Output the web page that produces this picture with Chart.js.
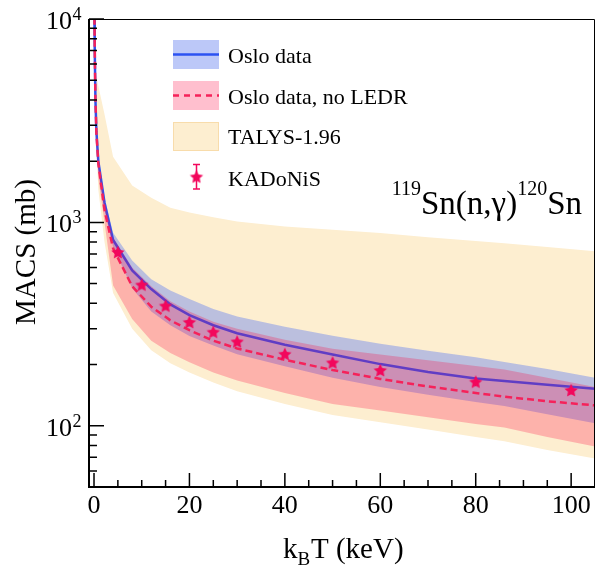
<!DOCTYPE html>
<html lang="en">
<head>
<meta charset="UTF-8">
<title>119Sn(n,γ)120Sn MACS</title>
<script src="https://cdn.jsdelivr.net/npm/chart.js"></script>
<style>
  html, body { margin: 0; padding: 0; background: #fff; }
  canvas { display: block; }
</style>
</head>
<body>
<canvas id="macs" width="603" height="567"></canvas>
<script>
// kT grid (keV) shared by the two Oslo curves
const kT = [0.05, 0.15, 0.3, 0.5, 0.9, 2.2, 4, 8, 12, 16, 20, 25, 30, 40, 50, 60, 70, 80, 86, 95, 105];

// Oslo data (with LEDR): central value and uncertainty band, mb
const osloMacs  = [13000, 7200, 4000, 2800, 2000, 1250, 820, 580, 470, 395, 350, 312, 285, 250, 224, 201, 184, 171, 166, 159, 152];
const osloUpper = [14000, 7600, 4200, 2950, 2100, 1330, 890, 650, 525, 462, 420, 375, 345, 307, 277, 253, 234, 217, 206, 190, 172];
const osloLower = [12000, 6800, 3800, 2650, 1880, 1150, 760, 475, 365, 312, 276, 248, 225, 196, 172, 155, 142, 131, 125, 114, 103];

// Oslo data without LEDR
const noLedrMacs  = [13000, 7200, 4000, 2750, 1950, 1150, 745, 485, 385, 330, 295, 262, 240, 211, 188, 170, 156, 145, 139, 132, 126];
const noLedrUpper = [13500, 7400, 4100, 2880, 2050, 1290, 845, 600, 485, 410, 365, 325, 300, 265, 239, 224, 210, 197, 189, 172, 155];
const noLedrLower = [11000, 6200, 3500, 2400, 1650, 1000, 490, 335, 262, 228, 205, 183, 167, 145, 128, 119, 110, 102, 98, 88, 79];

// TALYS-1.96 spread
const talysKT    = [0.3, 0.9, 2.2, 4, 8, 12, 16, 20, 25, 30, 40, 50, 60, 70, 80, 86, 95, 105];
const talysUpper = [5500, 4700, 3400, 2100, 1520, 1320, 1180, 1120, 1060, 1010, 955, 920, 888, 845, 810, 790, 757, 721];
const talysLower = [3000, 1450, 800, 450, 300, 235, 203, 183, 163, 148, 128, 113, 104, 96, 88, 84, 76, 69];

// KADoNiS recommended values
const kadonisKT   = [5, 10, 15, 20, 25, 30, 40, 50, 60, 80, 100];
const kadonisMacs = [716, 495, 390, 324, 290, 260, 226, 205, 188, 165, 150];
const kadonisErr  = [30, 20, 16, 13, 12, 10, 9, 9, 8, 8, 7];

// axis ticks
const xMajorTicks = [0, 20, 40, 60, 80, 100];
const xMinorTicks = [5, 10, 15, 25, 30, 35, 45, 50, 55, 65, 70, 75, 85, 90, 95];
const yMajorTicks = [100, 1000, 10000];
const yTickExponents = ['2', '3', '4'];
const yMinorTicks = [50, 60, 70, 80, 90, 200, 300, 400, 500, 600, 700, 800, 900,
                     2000, 3000, 4000, 5000, 6000, 7000, 8000, 9000];

const SERIF = '"Liberation Serif", "Times New Roman", serif';
const BLUE_LINE = '#2b52f2';
const BLUE_BAND = 'rgba(106, 133, 240, 0.45)';
const RED_LINE = '#f5225a';
const RED_BAND = 'rgba(255, 0, 60, 0.25)';
const TALYS_FILL = '#fdeed0';
const STAR = '#f2075c';

const pts = (xs, ys) => xs.map((x, i) => ({ x: x, y: ys[i] }));

// filled five-point star (ROOT marker 29)
function starImage(r, color) {
  const c = document.createElement('canvas');
  const s = Math.ceil(2 * r + 2);
  c.width = c.height = s;
  const g = c.getContext('2d');
  g.translate(s / 2, s / 2 + 0.8);
  g.beginPath();
  for (let k = 0; k < 10; k++) {
    const rad = k % 2 ? r * 0.48 : r;
    const a = -Math.PI / 2 + k * Math.PI / 5;
    g.lineTo(rad * Math.cos(a), rad * Math.sin(a));
  }
  g.closePath();
  g.fillStyle = color;
  g.fill();
  return c;
}
const star = starImage(7, STAR);

const band = (data, color, order) => ({
  data: data, fill: '+1', backgroundColor: color, borderColor: 'transparent',
  borderWidth: 0, pointRadius: 0, order: order
});
const edge = (data, order) => ({
  data: data, fill: false, borderColor: 'transparent', borderWidth: 0, pointRadius: 0, order: order
});

const KADONIS = 8;

const rootStyle = {
  id: 'rootStyle',
  beforeDatasetDraw(chart, args) {
    if (args.index !== KADONIS) return;
    const { ctx, scales: { x, y } } = chart;
    ctx.save();
    ctx.strokeStyle = STAR;
    ctx.lineWidth = 1.5;
    ctx.beginPath();
    kadonisKT.forEach((t, i) => {
      const px = x.getPixelForValue(t);
      ctx.moveTo(px, y.getPixelForValue(kadonisMacs[i] + kadonisErr[i]));
      ctx.lineTo(px, y.getPixelForValue(kadonisMacs[i] - kadonisErr[i]));
    });
    ctx.stroke();
    ctx.restore();
  },
  afterDraw(chart) {
    const { ctx, chartArea: a, scales: { x, y } } = chart;
    ctx.save();
    ctx.strokeStyle = '#000';
    ctx.fillStyle = '#000';

    // frame
    ctx.lineWidth = 1;
    ctx.beginPath();
    ctx.moveTo(a.left, a.top + 0.5); ctx.lineTo(a.right - 0.5, a.top + 0.5);
    ctx.lineTo(a.right - 0.5, a.bottom);
    ctx.stroke();
    ctx.lineWidth = 2;
    ctx.beginPath();
    ctx.moveTo(a.left, a.top); ctx.lineTo(a.left, a.bottom); ctx.lineTo(a.right, a.bottom);
    ctx.stroke();

    // inward ticks
    ctx.lineWidth = 1.5;
    ctx.beginPath();
    yMajorTicks.forEach(v => { const p = y.getPixelForValue(v); ctx.moveTo(a.left, p); ctx.lineTo(a.left + 15, p); });
    yMinorTicks.forEach(v => { const p = y.getPixelForValue(v); ctx.moveTo(a.left, p); ctx.lineTo(a.left + 8, p); });
    xMajorTicks.forEach(v => { const p = x.getPixelForValue(v); ctx.moveTo(p, a.bottom); ctx.lineTo(p, a.bottom - 14); });
    xMinorTicks.forEach(v => { const p = x.getPixelForValue(v); ctx.moveTo(p, a.bottom); ctx.lineTo(p, a.bottom - 7); });
    ctx.stroke();

    // tick labels
    ctx.font = '26px ' + SERIF;
    ctx.textAlign = 'center';
    ctx.textBaseline = 'alphabetic';
    xMajorTicks.forEach(v => ctx.fillText(String(v), x.getPixelForValue(v), 513));
    yMajorTicks.forEach((v, i) => {
      const p = y.getPixelForValue(v);
      ctx.font = '26px ' + SERIF;
      ctx.textAlign = 'right';
      ctx.fillText('10', 72, p + 10);
      ctx.font = '18px ' + SERIF;
      ctx.textAlign = 'left';
      ctx.fillText(yTickExponents[i], 72.5, p + 1);
    });

    // axis titles
    ctx.font = '29px ' + SERIF;
    ctx.textAlign = 'left';
    ctx.fillText('k', 283, 558);
    ctx.font = '19px ' + SERIF;
    ctx.fillText('B', 297.5, 565);
    ctx.font = '29px ' + SERIF;
    ctx.fillText('T (keV)', 311, 558);
    ctx.save();
    ctx.translate(35, 252);
    ctx.rotate(-Math.PI / 2);
    ctx.textAlign = 'center';
    ctx.fillText('MACS (mb)', 0, 0);
    ctx.restore();

    // reaction label, right-aligned
    const parts = [['119', 20, 195], ['Sn(n,γ)', 33, 214], ['120', 20, 195], ['Sn', 33, 214]];
    let total = 0;
    parts.forEach(p => { ctx.font = p[1] + 'px ' + SERIF; total += ctx.measureText(p[0]).width; });
    let cx = 582 - total;
    ctx.textAlign = 'left';
    parts.forEach(p => {
      ctx.font = p[1] + 'px ' + SERIF;
      ctx.fillText(p[0], cx, p[2]);
      cx += ctx.measureText(p[0]).width;
    });

    // legend
    const bx = 173, bw = 46, bh = 29, tx = 228;
    ctx.font = '22px ' + SERIF;
    ctx.textAlign = 'left';

    ctx.fillStyle = BLUE_BAND;
    ctx.fillRect(bx, 40, bw, bh);
    ctx.strokeStyle = BLUE_LINE; ctx.lineWidth = 2.5;
    ctx.beginPath(); ctx.moveTo(bx, 54.5); ctx.lineTo(bx + bw, 54.5); ctx.stroke();
    ctx.fillStyle = '#000';
    ctx.fillText('Oslo data', tx, 63);

    ctx.fillStyle = RED_BAND;
    ctx.fillRect(bx, 81, bw, bh);
    ctx.strokeStyle = RED_LINE; ctx.lineWidth = 2.5;
    ctx.setLineDash([6, 5]);
    ctx.beginPath(); ctx.moveTo(bx, 95.5); ctx.lineTo(bx + bw, 95.5); ctx.stroke();
    ctx.setLineDash([]);
    ctx.fillStyle = '#000';
    ctx.fillText('Oslo data, no LEDR', tx, 104);

    ctx.fillStyle = TALYS_FILL;
    ctx.fillRect(bx, 122, bw, bh);
    ctx.strokeStyle = '#f8dcab'; ctx.lineWidth = 1;
    ctx.strokeRect(bx + 0.5, 122.5, bw - 1, bh - 1);
    ctx.fillStyle = '#000';
    ctx.fillText('TALYS-1.96', tx, 144);

    ctx.strokeStyle = STAR; ctx.lineWidth = 1.5;
    ctx.beginPath();
    ctx.moveTo(196.5, 164.5); ctx.lineTo(196.5, 189);
    ctx.moveTo(193, 164.5); ctx.lineTo(200, 164.5);
    ctx.moveTo(193, 189); ctx.lineTo(200, 189);
    ctx.stroke();
    ctx.drawImage(star, 196.5 - star.width / 2, 176.5 - star.height / 2);
    ctx.fillStyle = '#000';
    ctx.fillText('KADoNiS', tx, 186);

    ctx.restore();
  }
};

new Chart(document.getElementById('macs'), {
  type: 'line',
  data: {
    datasets: [
      band(pts(talysKT, talysUpper), TALYS_FILL, 20),
      edge(pts(talysKT, talysLower), 19),
      band(pts(kT, osloUpper), BLUE_BAND, 18),
      edge(pts(kT, osloLower), 17),
      { data: pts(kT, osloMacs), borderColor: BLUE_LINE, borderWidth: 2.5, pointRadius: 0, fill: false, order: 16 },
      band(pts(kT, noLedrUpper), RED_BAND, 15),
      edge(pts(kT, noLedrLower), 14),
      { data: pts(kT, noLedrMacs), borderColor: RED_LINE, borderWidth: 2.5, borderDash: [7, 4], pointRadius: 0, fill: false, order: 13 },
      { data: pts(kadonisKT, kadonisMacs), showLine: false, pointStyle: star, pointRadius: 7, order: 1 }
    ]
  },
  options: {
    responsive: false,
    animation: false,
    layout: { padding: { left: 89, right: 5, top: 19, bottom: 80 } },
    scales: {
      x: { type: 'linear', min: -1.05, max: 105, display: false },
      y: { type: 'logarithmic', min: 50, max: 10000, display: false }
    },
    plugins: { legend: { display: false }, tooltip: { enabled: false } }
  },
  plugins: [rootStyle]
});
</script>
</body>
</html>
